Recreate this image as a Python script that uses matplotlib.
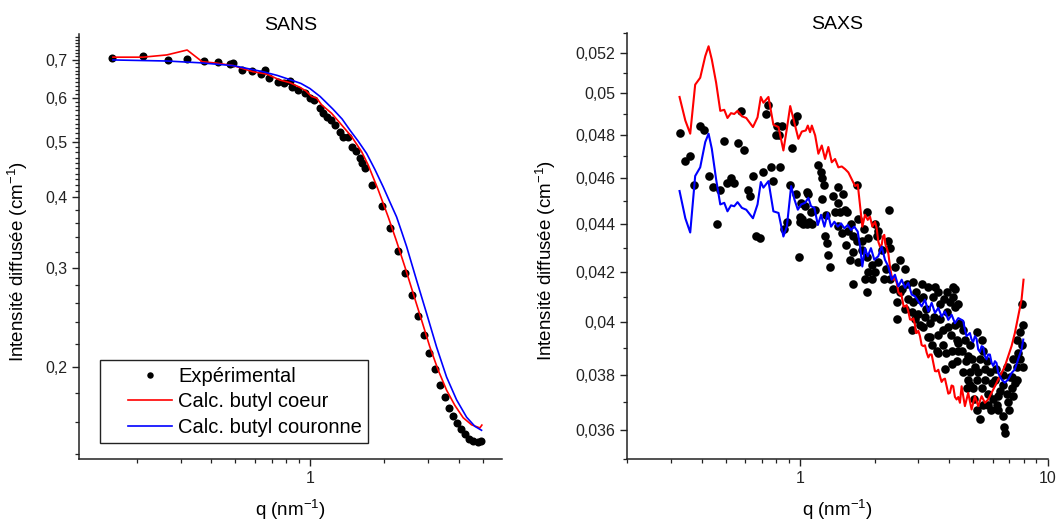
import matplotlib
matplotlib.use("Agg")
import matplotlib.pyplot as plt
from matplotlib.ticker import FixedLocator, FuncFormatter, NullFormatter
from matplotlib.lines import Line2D
from matplotlib.legend_handler import HandlerLine2D

plt.rcParams['font.family'] = ['Liberation Sans', 'DejaVu Sans']

# --- SANS (left panel) ---
sans_q = [0.159, 0.212, 0.266, 0.319, 0.373, 0.424, 0.475, 0.489, 0.530, 0.583,
          0.634, 0.658, 0.686, 0.740, 0.785, 0.830, 0.844, 0.897, 0.955, 1.000,
          1.041, 1.098, 1.132, 1.168, 1.216, 1.262, 1.322, 1.363, 1.420, 1.474,
          1.530, 1.592, 1.627, 1.668, 1.789, 1.949, 2.105, 2.262, 2.424, 2.583,
          2.736, 2.894, 3.040, 3.200, 3.358, 3.518, 3.661, 3.800, 3.945, 4.083,
          4.230, 4.402, 4.556, 4.764, 4.921]
sans_i = [0.706, 0.711, 0.700, 0.704, 0.697, 0.694, 0.688, 0.691, 0.673, 0.668,
          0.660, 0.671, 0.650, 0.640, 0.637, 0.642, 0.627, 0.618, 0.611, 0.600,
          0.595, 0.575, 0.563, 0.555, 0.548, 0.537, 0.521, 0.512, 0.512, 0.491,
          0.483, 0.469, 0.459, 0.451, 0.420, 0.385, 0.3525, 0.321, 0.293, 0.268,
          0.246, 0.228, 0.212, 0.198, 0.186, 0.177, 0.169, 0.164, 0.159, 0.155,
          0.152, 0.149, 0.148, 0.147, 0.148]

sans_coeur_q = [0.160, 0.2115, 0.264, 0.319, 0.367, 0.420, 0.490, 0.590, 0.668, 0.756,
                0.830, 0.911, 0.963, 1.016, 1.065, 1.115, 1.224, 1.343, 1.474, 1.618,
                1.720, 1.888, 2.072, 2.240, 2.420, 2.615, 2.828, 3.054, 3.299, 3.567,
                3.854, 4.164, 4.501, 4.863, 4.954]
sans_coeur_i = [0.708, 0.708, 0.7145, 0.729, 0.695, 0.691, 0.684, 0.667, 0.661, 0.645,
                0.638, 0.626, 0.617, 0.603, 0.599, 0.583, 0.563, 0.537, 0.512, 0.4815,
                0.456, 0.412, 0.369, 0.334, 0.301, 0.270, 0.242, 0.217, 0.1975, 0.182,
                0.171, 0.1626, 0.158, 0.156, 0.1578]

sans_couronne_q = [0.160, 0.264, 0.359, 0.490, 0.648, 0.740, 0.830, 0.920, 1.000, 1.100,
                   1.238, 1.350, 1.450, 1.570, 1.695, 1.830, 1.978, 2.100, 2.240, 2.350,
                   2.459, 2.698, 2.961, 3.250, 3.567, 3.914, 4.297, 4.642, 4.939]
sans_couronne_i = [0.700, 0.697, 0.692, 0.684, 0.667, 0.657, 0.646, 0.636, 0.623, 0.603,
                   0.573, 0.550, 0.526, 0.502, 0.478, 0.448, 0.417, 0.393, 0.369, 0.347,
                   0.327, 0.285, 0.249, 0.217, 0.192, 0.175, 0.163, 0.157, 0.1545]

# --- SAXS (right panel) ---
saxs_q = [0.326, 0.344, 0.358, 0.3745, 0.394, 0.409, 0.427, 0.445, 0.4615, 0.476,
          0.495, 0.509, 0.526, 0.542, 0.559, 0.5755, 0.5945, 0.616, 0.626, 0.646,
          0.662, 0.687, 0.709, 0.731, 0.745, 0.762, 0.780, 0.7965, 0.810, 0.825,
          0.831, 0.844, 0.912, 0.926, 0.948, 0.970, 0.862, 0.886, 0.991, 1.009,
          1.047, 1.080, 1.107, 1.016, 1.064, 1.121, 1.185, 1.215, 1.223, 1.253,
          1.261, 1.282, 1.293, 1.321, 1.362, 1.419, 1.427, 1.495, 1.384, 1.450,
          1.519, 1.543, 1.427, 1.473, 1.566, 1.640, 1.591, 1.640, 1.693, 1.693,
          1.783, 1.640, 1.828, 1.857, 1.886, 1.946, 2.006, 2.006, 2.039, 1.857,
          1.857, 1.064, 1.000, 2.285, 2.069, 2.270, 2.306, 2.531, 2.187, 2.415,
          2.651, 2.378, 2.571, 2.863, 2.455, 2.651, 2.455, 2.821, 2.909, 3.000,
          3.293, 3.503, 3.448, 3.904, 4.151, 4.026, 3.142, 3.191, 3.142, 3.344,
          3.613, 3.293, 3.669, 3.965, 4.218, 3.558, 3.784, 3.613, 4.284, 4.090,
          4.090, 3.844, 4.284, 2.306, 2.531, 2.693, 2.855, 4.218, 4.351, 4.418,
          4.560, 4.351, 4.627, 4.848, 5.158, 5.404, 4.771, 5.078, 5.320, 5.572,
          4.848, 5.158, 5.572, 5.838, 4.771, 4.997, 5.404, 5.745, 6.115, 6.018,
          6.305, 5.158, 5.320, 5.745, 6.210, 6.604, 6.815, 6.918, 7.246, 7.361,
          7.139, 7.479, 7.246, 7.591, 7.479, 7.714, 7.950, 7.834, 6.604, 6.665,
          6.709, 7.030, 7.834, 7.950,
          2.726, 2.829, 2.991, 3.047, 3.222, 3.344, 3.470, 3.669, 3.772, 3.914,
          4.063, 4.217, 4.336, 3.406, 3.878, 2.936, 3.104, 3.601, 3.807, 4.139,
          4.499, 4.670, 4.937, 5.222, 5.469, 5.675, 5.946, 6.170, 6.406, 6.586,
          6.835, 7.158, 7.499, 7.713, 4.714, 5.030, 5.469, 5.891, 6.288, 6.962,
          4.541, 4.848, 1.713, 1.778, 1.880, 1.951, 2.064, 2.141, 2.223, 1.533,
          1.606, 1.713, 1.811, 0.9636, 1.000, 1.028, 1.087, 1.150, 1.227, 1.273]
saxs_i = [0.0481, 0.0468, 0.0470, 0.0457, 0.0484, 0.0482, 0.0461, 0.0456, 0.0440, 0.0455,
          0.0477, 0.0458, 0.0460, 0.0458, 0.0476, 0.0491, 0.0473, 0.0455, 0.0452, 0.0461,
          0.0435, 0.0434, 0.0463, 0.0490, 0.0494, 0.0465, 0.0459, 0.0480, 0.0484, 0.0480,
          0.0465, 0.0484, 0.0457, 0.0474, 0.0486, 0.0489, 0.0438, 0.0441, 0.0426, 0.0449,
          0.0448, 0.0453, 0.0445, 0.0442, 0.0440, 0.0440, 0.0466, 0.0463, 0.0460, 0.0457,
          0.0435, 0.0432, 0.0427, 0.0422, 0.0452, 0.0456, 0.0449, 0.0453, 0.0445, 0.0445,
          0.0446, 0.0445, 0.0439, 0.0436, 0.0437, 0.0435, 0.0425, 0.0428, 0.0457, 0.0433,
          0.0433, 0.0415, 0.0417, 0.0412, 0.0420, 0.0423, 0.0420, 0.0440, 0.0435, 0.0426,
          0.0445, 0.0454, 0.0443, 0.0446, 0.0437, 0.0433, 0.0430, 0.0425, 0.0417, 0.0422,
          0.0421, 0.0413, 0.0413, 0.0416, 0.0408, 0.0405, 0.0401, 0.0397, 0.0401, 0.0403,
          0.0414, 0.0414, 0.0410, 0.0412, 0.0414, 0.0408, 0.0410, 0.0402, 0.0398, 0.03995,
          0.0395, 0.0394, 0.0401, 0.0398, 0.0406, 0.0389, 0.0391, 0.0388, 0.0393, 0.0389,
          0.0384, 0.0382, 0.0385, 0.0417, 0.0412, 0.0415, 0.0408, 0.0413, 0.0407, 0.03995,
          0.0397, 0.0392, 0.0393, 0.0391, 0.0396, 0.0393, 0.0387, 0.0383, 0.0386, 0.0382,
          0.0381, 0.0378, 0.0378, 0.0381, 0.0378, 0.0375, 0.0375, 0.0373, 0.0378, 0.0371,
          0.0372, 0.0367, 0.0364, 0.0369, 0.0369, 0.0376, 0.0373, 0.0370, 0.0372, 0.0377,
          0.0379, 0.0383, 0.0386, 0.0388, 0.0393, 0.0396, 0.0399, 0.0407, 0.0365, 0.0361,
          0.0359, 0.0379, 0.0391, 0.0383,
          0.0409, 0.0404, 0.0409, 0.0399, 0.0405, 0.0394, 0.0402, 0.0407, 0.0397, 0.0404,
          0.0395, 0.0399, 0.0389, 0.0391, 0.0388, 0.0412, 0.0415, 0.0412, 0.0409, 0.0410,
          0.0389, 0.0385, 0.0386, 0.0381, 0.0389, 0.0385, 0.0377, 0.0382, 0.0374, 0.0380,
          0.0383, 0.0375, 0.0378, 0.0386, 0.0375, 0.0371, 0.0369, 0.0367, 0.0367, 0.0367,
          0.0381, 0.0376, 0.0424, 0.0429, 0.0434, 0.0417, 0.0424, 0.0429, 0.0421, 0.0431,
          0.0440, 0.0442, 0.0438, 0.0453, 0.0441, 0.0440, 0.0441, 0.0446, 0.0451, 0.0444]

saxs_coeur_q = [0.326, 0.344, 0.360, 0.377, 0.395, 0.414, 0.427, 0.440, 0.458, 0.476,
                0.494, 0.509, 0.526, 0.542, 0.559, 0.582, 0.606, 0.645, 0.673, 0.694,
                0.711, 0.745, 0.780, 0.818, 0.856, 0.884, 0.912, 0.940, 0.984, 1.016,
                1.054, 1.074, 1.097, 1.115, 1.150, 1.185, 1.223, 1.261, 1.300, 1.342,
                1.384, 1.427, 1.473, 1.519, 1.566, 1.616, 1.667, 1.709, 1.746, 1.783,
                1.828, 1.875, 1.915, 1.957,
                2.006, 2.037, 2.069, 2.102, 2.135, 2.161, 2.187, 2.212, 2.237, 2.271,
                2.306, 2.342, 2.378, 2.416, 2.455, 2.493, 2.531, 2.558, 2.585, 2.618,
                2.651, 2.692, 2.734, 2.777, 2.821, 2.865, 2.909, 2.932, 2.955, 3.001,
                3.047, 3.094, 3.142, 3.192, 3.243, 3.293, 3.344, 3.396, 3.448, 3.503,
                3.558, 3.613, 3.669, 3.726, 3.784, 3.844, 3.904, 3.965, 4.026, 4.088,
                4.151, 4.217, 4.284, 4.351, 4.418,
                4.487, 4.627, 4.771, 4.923, 5.078, 5.236, 5.404, 5.572, 5.745, 5.930,
                6.115, 6.305, 6.507, 6.709, 6.918, 7.139, 7.361, 7.591, 7.834, 7.980]
saxs_coeur_i = [0.0498, 0.04867, 0.04805, 0.0504, 0.05074, 0.05182, 0.05232, 0.05165, 0.0505, 0.04913,
                0.04918, 0.04879, 0.04902, 0.04898, 0.04913, 0.04887, 0.04879, 0.04836, 0.04882, 0.0498,
                0.04952, 0.0498, 0.04847, 0.04836, 0.04727, 0.04828, 0.04936, 0.04874, 0.04781, 0.04815,
                0.0482, 0.04843, 0.04812, 0.04843, 0.04797, 0.04712, 0.0475, 0.04688, 0.04743, 0.04673,
                0.04688, 0.0465, 0.04654, 0.04642, 0.04627, 0.04596, 0.04566, 0.04573, 0.04477, 0.04389,
                0.0444, 0.04418, 0.04432, 0.04389,
                0.0441, 0.04383, 0.04325, 0.04304, 0.04312, 0.04348, 0.04354, 0.04312, 0.04299, 0.04275,
                0.04222, 0.0418, 0.04168, 0.04177, 0.04155, 0.04117, 0.04108, 0.04113, 0.04088, 0.0406,
                0.04061, 0.04066, 0.04041, 0.0401, 0.04008, 0.04014, 0.03989, 0.03958, 0.03957, 0.03966,
                0.03945, 0.03911, 0.03907, 0.0391, 0.03882, 0.03864, 0.03875, 0.03875, 0.03844, 0.03813,
                0.03812, 0.03818, 0.03794, 0.03773, 0.03782, 0.03785, 0.03757, 0.0373, 0.03733, 0.0376,
                0.03757, 0.03718, 0.03709, 0.03718, 0.03697,
                0.03757, 0.03685, 0.03733, 0.03673, 0.03721, 0.03685, 0.03721, 0.03697, 0.03709, 0.03733,
                0.03757, 0.03782, 0.03806, 0.03831, 0.03869, 0.03907, 0.03957, 0.04021, 0.04088, 0.04168]

saxs_couronne_q = [0.326, 0.344, 0.360, 0.377, 0.395, 0.414, 0.427, 0.440, 0.458, 0.476,
                   0.494, 0.509, 0.526, 0.542, 0.559, 0.582, 0.606, 0.645, 0.673, 0.694,
                   0.711, 0.745, 0.780, 0.818, 0.856, 0.884, 0.920, 0.9485, 0.979, 1.009,
                   1.047, 1.080, 1.107, 1.142, 1.179, 1.215, 1.253, 1.293, 1.333, 1.375,
                   1.419, 1.463, 1.509, 1.557, 1.605, 1.655, 1.708, 1.746, 1.783, 1.828,
                   1.875, 1.932, 1.993, 2.067, 2.135, 2.200, 2.270, 2.343, 2.415, 2.492,
                   2.571, 2.651, 2.734, 2.821, 2.909, 3.000, 3.095, 3.191, 3.293, 3.397,
                   3.503, 3.613, 3.727, 3.844, 3.965, 4.090, 4.218, 4.351,
                   4.487, 4.557, 4.627, 4.698, 4.771, 4.846, 4.923, 5.000, 5.078, 5.156,
                   5.236, 5.319, 5.404, 5.487, 5.572, 5.658, 5.745, 5.836, 5.930, 6.021,
                   6.115, 6.209, 6.305,
                   6.507, 6.709, 6.918, 7.139, 7.361, 7.591, 7.834, 7.960]
saxs_couronne_i = [0.04544, 0.04425, 0.04364, 0.04611, 0.0465, 0.04766, 0.04805, 0.04735, 0.04596, 0.04485,
                   0.04492, 0.04455, 0.04481, 0.04477, 0.04495, 0.0447, 0.04462, 0.04425, 0.04485, 0.04584,
                   0.04559, 0.04588, 0.04455, 0.04448, 0.04347, 0.04389, 0.04566, 0.04507, 0.04462, 0.04485,
                   0.04492, 0.04514, 0.04477, 0.0447, 0.04396, 0.0444, 0.04389, 0.04448, 0.04389, 0.0441,
                   0.04389, 0.04403, 0.04382, 0.04396, 0.04375, 0.04389, 0.04368, 0.04305, 0.04222, 0.04298,
                   0.04264, 0.04298, 0.0425, 0.04264, 0.04305, 0.0425, 0.04222, 0.04168, 0.04188, 0.04141,
                   0.04168, 0.04135, 0.04155, 0.04108, 0.04101, 0.04081, 0.04061, 0.04088, 0.04041, 0.04075,
                   0.04035, 0.04055, 0.04021, 0.04041, 0.04008, 0.04028, 0.03995, 0.04015,
                   0.04008, 0.04004, 0.0397, 0.03945, 0.03951, 0.03957, 0.03932, 0.03923, 0.03945, 0.03935,
                   0.03894, 0.03885, 0.03907, 0.03903, 0.03869, 0.03857, 0.03875, 0.03875, 0.03844, 0.03832,
                   0.0385, 0.03843, 0.03806,
                   0.03782, 0.0377, 0.03782, 0.03806, 0.03819, 0.03857, 0.03894, 0.03932]

sans_yticks = [0.2, 0.3, 0.4, 0.5, 0.6, 0.7]
saxs_yticks = [0.036, 0.038, 0.04, 0.042, 0.044, 0.046, 0.048, 0.05, 0.052]

label_exp = 'Expérimental'
label_coeur = 'Calc. butyl coeur'
label_couronne = 'Calc. butyl couronne'
ylabel = 'Intensité diffusée (cm$^{\\mathregular{-1}}$)'
xlabel = 'q (nm$^{\\mathregular{-1}}$)'

comma = FuncFormatter(lambda v, p: ('%g' % v).replace('.', ','))


def style(ax):
    for s in ['top', 'right']:
        ax.spines[s].set_visible(False)
    for s in ['left', 'bottom']:
        ax.spines[s].set_linewidth(1.1)
        ax.spines[s].set_color('#222222')
    ax.tick_params(which='major', direction='out', length=5, width=1.0,
                   labelsize=11.5, colors='#222222')
    ax.tick_params(which='minor', direction='out', length=2.6, width=0.9,
                   colors='#222222')


fig = plt.figure(figsize=(10.6, 5.24), dpi=100)
ax1 = fig.add_axes([0.0745, 0.124, 0.399, 0.811])
ax2 = fig.add_axes([0.5915, 0.124, 0.397, 0.813])

# left panel
ax1.plot(sans_q, sans_i, 'o', color='black', ms=5.8, mew=0, label=label_exp)
ax1.plot(sans_coeur_q, sans_coeur_i, '-', color='#ff0000', lw=1.2, label=label_coeur)
ax1.plot(sans_couronne_q, sans_couronne_i, '-', color='#0000ff', lw=1.2, label=label_couronne)
ax1.set_xscale('log')
ax1.set_yscale('log')
ax1.set_xlim(0.1166, 5.97)
ax1.set_ylim(0.1374, 0.778)
ax1.xaxis.set_major_locator(FixedLocator([1]))
ax1.xaxis.set_major_formatter(comma)
ax1.xaxis.set_minor_locator(FixedLocator([0.2, 0.3, 0.4, 0.5, 0.6, 0.7, 0.8, 0.9, 2, 3, 4, 5]))
ax1.xaxis.set_minor_formatter(NullFormatter())
ax1.yaxis.set_major_locator(FixedLocator(sans_yticks))
ax1.yaxis.set_major_formatter(comma)
sans_minor = [0.14, 0.16, 0.18, 0.22, 0.24, 0.26, 0.28, 0.32, 0.34, 0.36, 0.38]
sans_minor += [k / 100 for k in range(41, 78) if k % 10 != 0]
ax1.yaxis.set_minor_locator(FixedLocator(sans_minor))
ax1.yaxis.set_minor_formatter(NullFormatter())
style(ax1)
ax1.set_title('SANS', fontsize=14, pad=3)
ax1.set_xlabel(xlabel, fontsize=13.5)
ax1.set_ylabel(ylabel, fontsize=13.5)
ax1.xaxis.set_label_coords(0.5, -0.09)
ax1.yaxis.set_label_coords(-0.116, 0.466)

leg = ax1.legend(loc='lower left', bbox_to_anchor=(0.0496, 0.0376), borderaxespad=0,
                 fontsize=14.5, numpoints=1, handlelength=3.26, handletextpad=0.3,
                 borderpad=0.32, labelspacing=0.32, fancybox=False, framealpha=1,
                 edgecolor='#222222', markerscale=0.8,
                 handler_map={Line2D: HandlerLine2D(xpad=1.07)})
leg.get_frame().set_linewidth(1.0)

# right panel
ax2.plot(saxs_q, saxs_i, 'o', color='black', ms=6.2, mew=0)
ax2.plot(saxs_coeur_q, saxs_coeur_i, '-', color='#ff0000', lw=1.5)
ax2.plot(saxs_couronne_q, saxs_couronne_i, '-', color='#0000ff', lw=1.5)
ax2.set_xscale('log')
ax2.set_yscale('log')
ax2.set_xlim(0.2, 10)
ax2.set_ylim(0.0350, 0.0530)
ax2.xaxis.set_major_locator(FixedLocator([1, 10]))
ax2.xaxis.set_major_formatter(comma)
ax2.xaxis.set_minor_locator(FixedLocator([0.2, 0.3, 0.4, 0.5, 0.6, 0.7, 0.8, 0.9,
                                          2, 3, 4, 5, 6, 7, 8, 9]))
ax2.xaxis.set_minor_formatter(NullFormatter())
ax2.yaxis.set_major_locator(FixedLocator(saxs_yticks))
ax2.yaxis.set_major_formatter(comma)
ax2.yaxis.set_minor_locator(FixedLocator([0.035, 0.037, 0.039, 0.041, 0.043, 0.045,
                                          0.047, 0.049, 0.051, 0.053]))
ax2.yaxis.set_minor_formatter(NullFormatter())
style(ax2)
ax2.set_title('SAXS', fontsize=14, pad=3)
ax2.set_xlabel(xlabel, fontsize=13.5)
ax2.set_ylabel(ylabel, fontsize=13.5)
ax2.xaxis.set_label_coords(0.5, -0.09)
ax2.yaxis.set_label_coords(-0.164, 0.466)

fig.savefig('out.png', dpi=100)
